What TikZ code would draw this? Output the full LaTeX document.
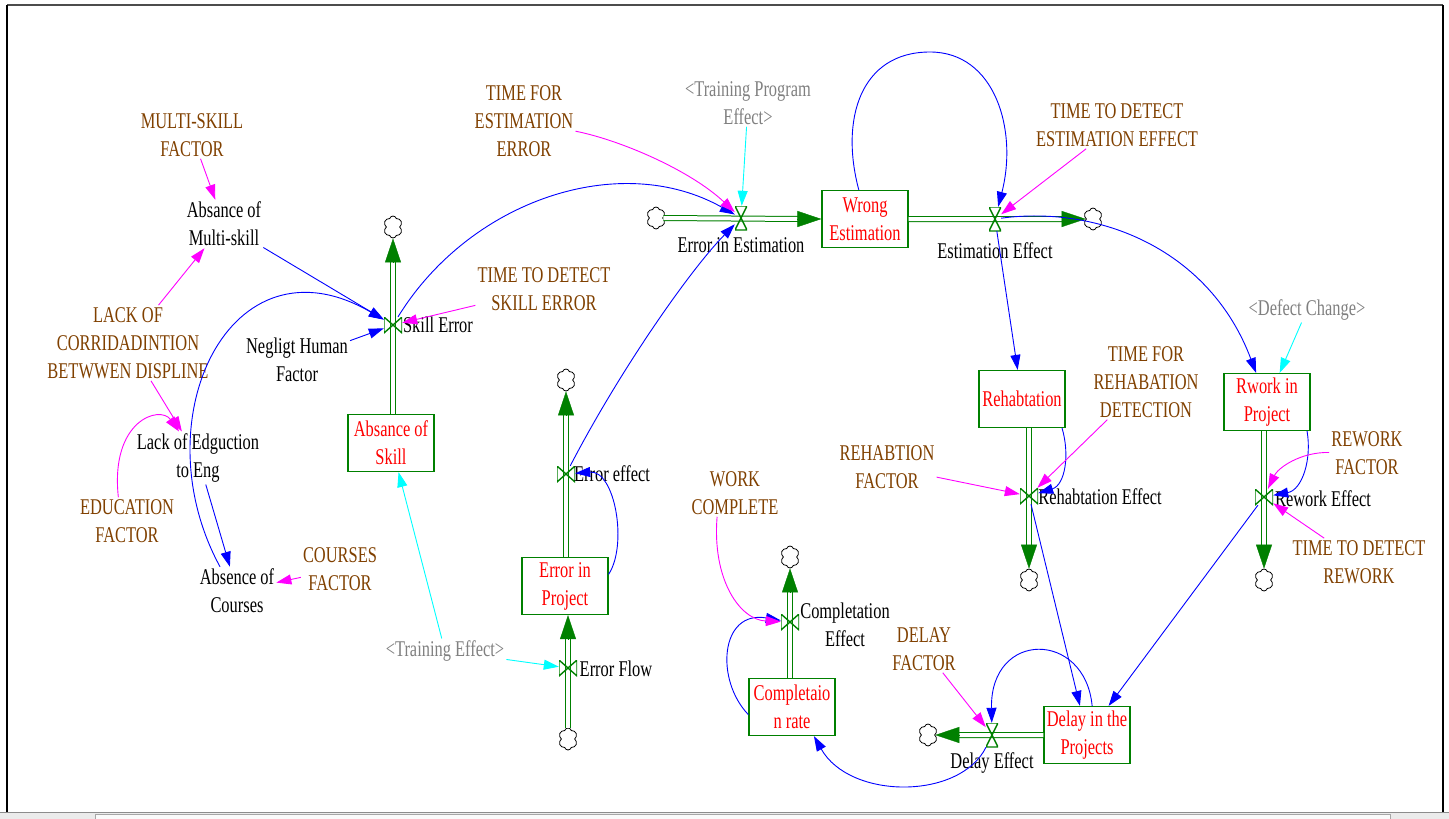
\documentclass[tikz,border=0pt]{standalone}
\usepackage{fontspec}
\setmainfont{Liberation Serif}[FakeStretch=0.73]
\usepackage{xcolor}
\usetikzlibrary{arrows.meta, calc, shapes.symbols}

\definecolor{flowgreen}{RGB}{0,128,0}
\definecolor{parambrown}{RGB}{128,64,0}
\definecolor{shadowgray}{RGB}{128,128,128}
\definecolor{linkblue}{RGB}{0,0,255}
\definecolor{linkpink}{RGB}{255,0,255}
\definecolor{linkcyan}{RGB}{0,255,255}

\begin{document}
\begin{tikzpicture}[
x=1pt, y=-1pt,
every node/.style={font=\fontsize{22.5}{28}\selectfont},
stock/.style={
rectangle,
draw=flowgreen,
line width=1.2pt,
text=red,
minimum width=86pt,
minimum height=57pt,
align=center,
inner sep=2pt
},
aux/.style={align=center, inner sep=2pt, text=black},
param/.style={align=center, inner sep=2pt, text=parambrown},
shadowvar/.style={align=center, inner sep=2pt, text=shadowgray},
ratelabel/.style={inner sep=1pt, align=center, text=black},
sink/.style={
cloud, cloud puffs=6, cloud puff arc=150, cloud ignores aspect,
draw, line width=0.8pt,
minimum width=19pt, minimum height=22pt, inner sep=0pt
},
valveh/.style={
minimum width=12pt, minimum height=24pt, inner sep=0pt,
path picture={\draw[flowgreen, line width=1.4pt]
(path picture bounding box.north west) -- (path picture bounding box.north east) --
(path picture bounding box.south west) -- (path picture bounding box.south east) -- cycle;}
},
valvev/.style={
minimum width=18pt, minimum height=16pt, inner sep=0pt,
path picture={\draw[flowgreen, line width=1.4pt]
(path picture bounding box.north west) -- (path picture bounding box.south west) --
(path picture bounding box.north east) -- (path picture bounding box.south east) -- cycle;}
},
pipe/.style={draw=flowgreen, line width=1pt, double=white, double distance=4pt},
pipehead/.style={draw=flowgreen, line width=0.4pt, -{Triangle[length=24pt,width=16pt]}},
link/.style={draw=linkblue, line width=0.9pt, -{Triangle[length=15pt,width=10pt]}},
plink/.style={draw=linkpink, line width=0.9pt, -{Triangle[length=15pt,width=10pt]}},
clink/.style={draw=linkcyan, line width=0.9pt, -{Triangle[length=15pt,width=10pt]}}
]

\useasboundingbox (0,0) rectangle (1449,819);

% window frame
\draw[line width=2pt, black!70] (7,5) -- (1443,5);
\draw[line width=2pt] (7,5) -- (7,812);
\draw[line width=2pt] (1443,5) -- (1443,812);
\fill[black!8] (0,812) rectangle (1449,819);
\draw[black!45] (0,812) -- (1449,812);
\draw[black!35, fill=black!2] (95,814) rectangle (1390,819);

% stocks
\node[stock] (wrongest) at (865,219) {Wrong\\Estimation};
\node[stock] (abskill) at (391,443) {Absance of\\Skill};
\node[stock] (errproj) at (565,586) {Error in\\Project};
\node[stock] (rehab) at (1022,399) {Rehabtation};
\node[stock] (rwork) at (1267,402) {Rwork in\\Project};
\node[stock] (complrate) at (792,707) {Completaio\\n rate};
\node[stock] (delayproj) at (1087,735) {Delay in the\\Projects};

% clouds
\node[sink] (cee) at (656,218) {};
\node[sink] (cest) at (1093,219) {};
\node[sink] (cskill) at (393,227) {};
\node[sink] (cerr) at (566,380) {};
\node[sink] (cflow) at (568,739) {};
\node[sink] (ccompl) at (790,557) {};
\node[sink] (crehab) at (1029,580) {};
\node[sink] (crework) at (1264,580) {};
\node[sink] (cdelay) at (928,735) {};

% pipes
\draw[pipe] (cee.east) -- ($(wrongest.west)+(-22,0)$);
\draw[pipehead] ($(wrongest.west)+(-24,0)$) -- (wrongest.west);
\draw[pipe] (wrongest.east) -- ($(cest.west)+(-22,0)$);
\draw[pipehead] ($(cest.west)+(-24,0)$) -- (cest.west);
\draw[pipe] (abskill.north -| cskill) -- ($(cskill.south)+(0,22)$);
\draw[pipehead] ($(cskill.south)+(0,24)$) -- (cskill.south);
\draw[pipe] (errproj.north -| cerr) -- ($(cerr.south)+(0,22)$);
\draw[pipehead] ($(cerr.south)+(0,24)$) -- (cerr.south);
\draw[pipe] (cflow.north) -- ($(errproj.south -| cflow)+(0,22)$);
\draw[pipehead] ($(errproj.south -| cflow)+(0,24)$) -- (errproj.south -| cflow);
\draw[pipe] (complrate.north -| ccompl) -- ($(ccompl.south)+(0,22)$);
\draw[pipehead] ($(ccompl.south)+(0,24)$) -- (ccompl.south);
\draw[pipe] (rehab.south -| crehab) -- ($(crehab.north)+(0,-22)$);
\draw[pipehead] ($(crehab.north)+(0,-24)$) -- (crehab.north);
\draw[pipe] (rwork.south -| crework) -- ($(crework.north)+(0,-22)$);
\draw[pipehead] ($(crework.north)+(0,-24)$) -- (crework.north);
\draw[pipe] (delayproj.west |- cdelay) -- ($(cdelay.east)+(22,0)$);
\draw[pipehead] ($(cdelay.east)+(24,0)$) -- (cdelay.east);

% valves and rate names
\node[valveh] (vee) at (741,218) {};
\node[ratelabel] (vee-l) at (741,245) {Error in Estimation};
\node[valveh] (vest) at (995,219) {};
\node[ratelabel] (vest-l) at (995,251) {Estimation Effect};
\node[valvev] (vskill) at (393,325) {};
\node[ratelabel] (vskill-l) at (438,325) {Skill Error};
\node[valvev] (verr) at (566,474) {};
\node[ratelabel] (verr-l) at (612,474) {Error effect};
\node[valvev] (vflow) at (568,668) {};
\node[ratelabel] (vflow-l) at (616,669) {Error Flow};
\node[valvev] (vcompl) at (790,622) {};
\node[ratelabel] (vcompl-l) at (845,625) {Completation\\Effect};
\node[valvev] (vrehab) at (1029,496) {};
\node[ratelabel] (vrehab-l) at (1100,497) {Rehabtation Effect};
\node[valvev] (vrework) at (1264,497) {};
\node[ratelabel] (vrework-l) at (1323,499) {Rework Effect};
\node[valveh] (vdelay) at (992,735) {};
\node[ratelabel] (vdelay-l) at (992,763) {Delay Effect};

% auxiliaries
\node[aux] (absms) at (224,224) {Absance of\\Multi-skill};
\node[aux] (neg) at (297,360) {Negligt Human\\Factor};
\node[aux] (lackedu) at (198,458) {Lack of Edguction\\to Eng};
\node[aux] (abscourses) at (237,591) {Absence of\\Courses};

% constants
\node[param] (msf) at (192,135) {MULTI-SKILL\\FACTOR};
\node[param] (tfee) at (524,121) {TIME FOR\\ESTIMATION\\ERROR};
\node[param] (ttdse) at (544,289) {TIME TO DETECT\\SKILL ERROR};
\node[param] (lackcorr) at (128,343) {LACK OF\\CORRIDADINTION\\BETWWEN DISPLINE};
\node[param] (edufac) at (127,521) {EDUCATION\\FACTOR};
\node[param] (coursesfac) at (340,569) {COURSES\\FACTOR};
\node[param] (ttdee) at (1117,125) {TIME TO DETECT\\ESTIMATION EFFECT};
\node[param] (tfrd) at (1146,382) {TIME FOR\\REHABATION\\DETECTION};
\node[param] (rehfac) at (887,467) {REHABTION\\FACTOR};
\node[param] (workc) at (735,493) {WORK\\COMPLETE};
\node[param] (rwfac) at (1367,453) {REWORK\\FACTOR};
\node[param] (ttdrw) at (1359,562) {TIME TO DETECT\\REWORK};
\node[param] (delfac) at (924,649) {DELAY\\FACTOR};

% shadow variables
\node[shadowvar] (tpe) at (748,103) {<Training Program\\Effect>};
\node[shadowvar] (dch) at (1307,310) {<Defect Change>};
\node[shadowvar] (tre) at (445,651) {<Training Effect>};

% causal links
\draw[link] (absms) -- (vskill);
\draw[link] (neg) -- (vskill);
\draw[link] (abscourses.125) .. controls (140,420) and (230,230) .. (vskill);
\draw[link] (lackedu) -- (abscourses);
\draw[link] (vskill) .. controls (470,200) and (620,150) .. (vee);
\draw[link] (verr) .. controls (620,370) and (690,270) .. (vee);
\draw[link] (errproj.15) .. controls (628,545) and (615,470) .. (verr);
\draw[link] (wrongest.102) .. controls (840,120) and (860,52) .. (930,52)
  .. controls (995,52) and (1018,130) .. (vest);
\draw[link] (vest) .. controls (1100,205) and (1210,250) .. (rwork);
\draw[link] (vest) -- (rehab);
\draw[link] (rehab.-36) .. controls (1070,455) and (1065,485) .. (vrehab);
\draw[link] (rwork.-36) .. controls (1312,460) and (1302,490) .. (vrework);
\draw[link] (vrehab) -- (delayproj);
\draw[link] (vrework) -- (delayproj);
\draw[link] (delayproj.80) .. controls (1085,630) and (990,630) .. (vdelay);
\draw[link] (vdelay) .. controls (960,800) and (850,800) .. (complrate.-53);
\draw[link] (complrate.190) .. controls (715,680) and (720,610) .. (vcompl);

\draw[plink] (msf) -- (absms);
\draw[plink] (lackcorr) -- (absms);
\draw[plink] (lackcorr) -- (lackedu);
\draw[plink] (edufac.110) .. controls (110,420) and (160,405) .. (lackedu);
\draw[plink] (coursesfac) -- (abscourses);
\draw[plink] (ttdse) -- (vskill);
\draw[plink] (tfee) .. controls (620,140) and (690,170) .. (vee);
\draw[plink] (ttdee) -- (vest);
\draw[plink] (rehfac) -- (vrehab);
\draw[plink] (tfrd) -- (vrehab);
\draw[plink] (rwfac) .. controls (1300,452) and (1278,468) .. (vrework);
\draw[plink] (ttdrw) -- (vrework);
\draw[plink] (workc.-127) .. controls (712,580) and (740,620) .. (vcompl);
\draw[plink] (delfac) -- (vdelay);

\draw[clink] (tpe) -- (vee);
\draw[clink] (dch) -- (rwork);
\draw[clink] (tre) -- (abskill);
\draw[clink] (tre) -- (vflow);

\end{tikzpicture}
\end{document}
